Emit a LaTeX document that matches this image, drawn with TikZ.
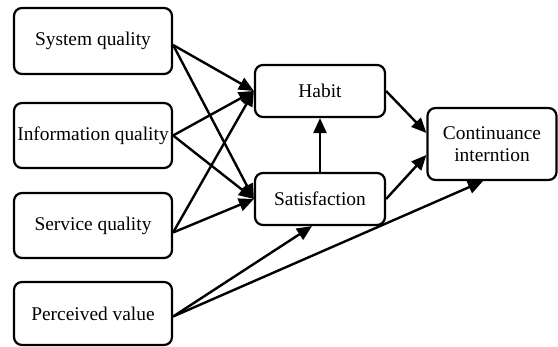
\documentclass[tikz,border=0pt]{standalone}
\usepackage{fontspec}
\setmainfont{Liberation Serif}
\usepackage{tikz}
\usetikzlibrary{arrows.meta, positioning}

\begin{document}
\begin{tikzpicture}[x=0.5pt, y=-0.5pt, font=\fontsize{9.7}{11}\selectfont,
  box/.style={draw, line width=1.1pt, rounded corners=4pt, align=center, inner sep=1pt},
  link/.style={-{Triangle[length=7.5pt, width=6.5pt]}, line width=1.2pt}]
  \useasboundingbox (0,0) rectangle (558,347);
  % constructs on the left
  \node[box, minimum width=79pt, minimum height=33pt] (sys) at (93,41) {System quality};
  \node[box, minimum width=79pt, minimum height=32.5pt] (info) at (93,135.5) {Information quality};
  \node[box, minimum width=79pt, minimum height=32.5pt] (serv) at (93,225.5) {Service quality};
  \node[box, minimum width=79pt, minimum height=31.5pt] (perc) at (93,313.5) {Perceived value};
  % mediators and outcome
  \node[box, minimum width=65pt, minimum height=26pt] (habit) at (320,91) {Habit};
  \node[box, minimum width=65pt, minimum height=26pt] (sat) at (320,199) {Satisfaction};
  \node[box, minimum width=64.5pt, minimum height=36pt] (cont) at (492,144) {Continuance\\interntion};

  \draw[link] ([yshift=-2pt]sys.east) -- (habit.west);
  \draw[link] ([yshift=-2pt]sys.east) -- (sat.west);
  \draw[link] (info.east) -- (habit.west);
  \draw[link] (info.east) -- (sat.west);
  \draw[link] ([yshift=-3.5pt]serv.east) -- (habit.west);
  \draw[link] ([yshift=-3.5pt]serv.east) -- (sat.west);
  \draw[link] ([yshift=-1.5pt]perc.east) -- ([xshift=-4pt]sat.south);
  \draw[link] ([yshift=-1.5pt]perc.east) -- ([xshift=-4.5pt]cont.south);
  \draw[link] (sat.north) -- (habit.south);
  \draw[link] (habit.east) -- ([yshift=5.5pt]cont.west);
  \draw[link] (sat.east) -- ([yshift=-5.5pt]cont.west);
\end{tikzpicture}
\end{document}
